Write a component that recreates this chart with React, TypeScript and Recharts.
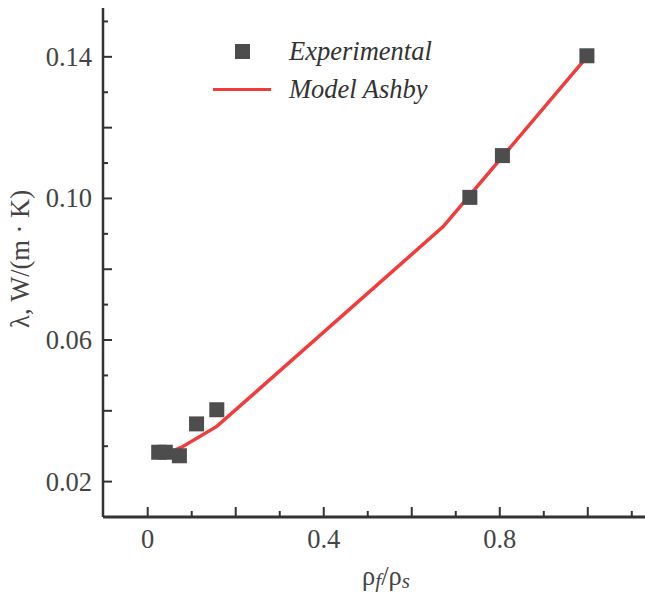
import React from 'react';
import { ComposedChart, Line, Scatter, XAxis, YAxis, Legend } from 'recharts';

const experimentalX = [0.025, 0.04, 0.072, 0.111, 0.157, 0.732, 0.806, 0.998];
const experimentalY = [0.0283, 0.0283, 0.0273, 0.0363, 0.0403, 0.1003, 0.1121, 0.1403];

const modelX = [0.024, 0.08, 0.157, 0.672, 0.998];
const modelY = [0.0269, 0.0299, 0.0356, 0.0921, 0.14];

const xTicks = [0, 0.1, 0.2, 0.3, 0.4, 0.5, 0.6, 0.7, 0.8, 0.9, 1.0, 1.1];
const yTicks = [0.02, 0.03, 0.04, 0.05, 0.06, 0.07, 0.08, 0.09, 0.1, 0.11, 0.12, 0.13, 0.14, 0.15];

const experimental = experimentalX.map((x, i) => ({ x, y: experimentalY[i] }));
const model = modelX.map((x, i) => ({ x, y: modelY[i] }));

const FONT = '"Liberation Serif", "Times New Roman", serif';
const FS = 26.5;
const AXIS = '#333333';
const TEXT = '#444444';
const RED = '#f23c3c';
const SQ = '#4d4d4d';

const XTick = (props: any) => {
  const { x, y, payload } = props;
  const k = Math.round(payload.value * 10);
  const major = k % 2 === 0;
  const label = k % 4 === 0;
  return (
    <g>
      <line x1={x} x2={x} y1={y} y2={y - (major ? 10 : 6)} stroke={AXIS} strokeWidth={2} />
      {label && (
        <text x={x} y={y + 31} textAnchor="middle" fontFamily={FONT} fontSize={FS} fill={TEXT}>
          {k === 0 ? '0' : (k / 10).toFixed(1)}
        </text>
      )}
    </g>
  );
};

const YTick = (props: any) => {
  const { x, y, payload } = props;
  const k = Math.round(payload.value * 100);
  const major = k % 2 === 0;
  const label = k % 4 === 2;
  return (
    <g>
      <line x1={x} x2={x + (major ? 9 : 5)} y1={y} y2={y} stroke={AXIS} strokeWidth={2} />
      {label && (
        <text x={x - 11} y={y + 9} textAnchor="end" fontFamily={FONT} fontSize={FS} fill={TEXT}>
          {(k / 100).toFixed(2)}
        </text>
      )}
    </g>
  );
};

const Square = (props: any) => {
  const { cx, cy } = props;
  return <rect x={cx - 7.5} y={cy - 7.5} width={15} height={15} fill={SQ} />;
};

const LegendContent = () => (
  <div style={{ fontFamily: FONT, fontSize: FS, fontStyle: 'italic', color: '#333', lineHeight: '38px' }}>
    <div style={{ display: 'flex', alignItems: 'center', height: 38 }}>
      <div style={{ width: 58, display: 'flex', justifyContent: 'center' }}>
        <div style={{ width: 15, height: 15, background: SQ }} />
      </div>
      <span style={{ marginLeft: 18 }}>Experimental</span>
    </div>
    <div style={{ display: 'flex', alignItems: 'center', height: 38 }}>
      <div style={{ width: 58, height: 3, background: RED }} />
      <span style={{ marginLeft: 18 }}>Model Ashby</span>
    </div>
  </div>
);

const XLabel = (props: any) => {
  const { viewBox } = props;
  const cx = viewBox.x + viewBox.width / 2 + 12;
  const y = 585;
  return (
    <text x={cx} y={y} textAnchor="middle" fontFamily={FONT} fontSize={FS} fill={TEXT}>
      ρ<tspan fontStyle="italic" fontSize={21} dy={3}>f</tspan>
      <tspan dy={-3}>/ρ</tspan>
      <tspan fontStyle="italic" fontSize={21} dy={3}>s</tspan>
    </text>
  );
};

const YLabel = () => (
  <text
    x={20}
    y={259}
    transform="rotate(-90, 20, 259)"
    textAnchor="middle"
    dominantBaseline="central"
    fontFamily={FONT}
    fontSize={FS}
    fill={TEXT}
  >
    λ, W/(m · K)
  </text>
);

export default function App() {
  return (
    <div style={{ position: 'absolute', left: 0, top: 0, width: 645, height: 592, overflow: 'hidden', background: '#fff' }}>
      <ComposedChart width={645} height={592} margin={{ top: 8, right: 0, bottom: 0, left: 0 }}>
        <XAxis
          type="number"
          dataKey="x"
          domain={[-0.1016, 1.13]}
          ticks={xTicks}
          interval={0}
          tickSize={0}
          tickMargin={0}
          tickLine={false}
          tick={<XTick />}
          height={75}
          axisLine={{ stroke: AXIS, strokeWidth: 3 }}
          allowDataOverflow
          label={<XLabel />}
        />
        <YAxis
          type="number"
          dataKey="y"
          domain={[0.01, 0.1538]}
          ticks={yTicks}
          interval={0}
          tickSize={0}
          tickMargin={0}
          tickLine={false}
          tick={<YTick />}
          width={103}
          axisLine={{ stroke: AXIS, strokeWidth: 2.5 }}
          allowDataOverflow
          label={<YLabel />}
        />
        <Legend
          verticalAlign="middle"
          align="center"
          layout="vertical"
          wrapperStyle={{ left: 213, top: 32, width: 260 }}
          content={<LegendContent />}
        />
        <Line
          data={model}
          dataKey="y"
          type="linear"
          stroke={RED}
          strokeWidth={3.5}
          dot={false}
          activeDot={false}
          isAnimationActive={false}
          legendType="line"
          name="Model Ashby"
        />
        <Scatter
          data={experimental}
          dataKey="y"
          shape={<Square />}
          isAnimationActive={false}
          name="Experimental"
        />
      </ComposedChart>
    </div>
  );
}
